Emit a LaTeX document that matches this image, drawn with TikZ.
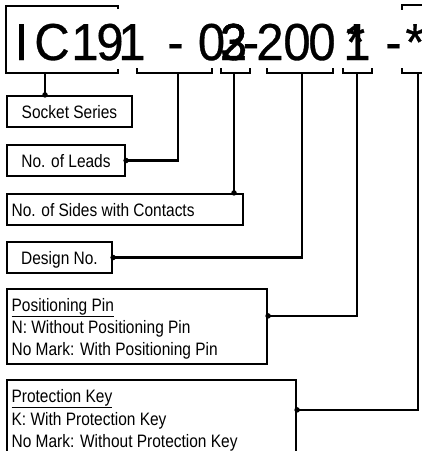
\documentclass[tikz,border=0pt]{standalone}
\usepackage{fontspec}
\setmainfont{Liberation Sans}
\newfontfamily\labfont[FakeStretch=0.86]{Liberation Sans}
\newfontfamily\titfont[FakeStretch=0.94,FakeBold=0.6]{Liberation Sans}
\usetikzlibrary{calc}
\begin{document}
\begin{tikzpicture}[x=1pt,y=-1pt,line width=2.2pt,
  box/.style={draw,rectangle,inner sep=0pt,line width=2.2pt},
  lab/.style={inner sep=0pt,font=\labfont\fontsize{18}{22}\selectfont},
  big/.style={inner sep=0pt,anchor=base,font=\titfont\fontsize{52}{60}\selectfont},
  jdot/.style={fill,circle,inner sep=0pt,minimum size=5.5pt}]
\useasboundingbox (0,0) rectangle (422,451);
\clip (0,0) rectangle (422,451);

% title glyphs
\node[big] (t1a) at (21.5,60) {I};
\node[big] (t1b) at (52,60) {C};
\node[big] (t1c) at (85,60) {1};
\node[big] (t1d) at (110,60) {9};
\node[big] (t1e) at (132,60) {1};
\node[big] (t2) at (175.5,60) {-};
\node[big] (t3) at (211.5,60) {0};
\node[big] (t4) at (233.5,60) {2};
\node[big] (t5) at (233.5,60) {3};
\node[big] (t6) at (251,60) {-};
\node[big] (t7) at (270,60) {2};
\node[big] (t8) at (297,60) {0};
\node[big] (t9) at (322,60) {0};
\node[big] (t10) at (357,60) {1};
\node[big] (t11) at (355.5,60) {*};
\node[big] (t12) at (393.5,60) {-};
\node[big] (t13) at (415,60) {*};

% brackets
\draw (118,9) -- (118,6) -- (6,6) -- (6,73) -- (118,73) -- (118,69);
\coordinate (b1) at (45,73);
\draw (137,68) -- (137,73) -- (212,73) -- (212,68);
\coordinate (b2) at (178,73);
\draw (221,68) -- (221,73) -- (250,73) -- (250,68);
\coordinate (b3) at (234,73);
\draw (267,68) -- (267,73) -- (333,73) -- (333,68);
\coordinate (b4) at (302,73);
\draw (343,68) -- (343,73) -- (372,73) -- (372,68);
\coordinate (b5) at (357,73);
\draw (430,5) -- (402,5) -- (402,10);
\draw (402,68) -- (402,73) -- (430,73);
\coordinate (b6) at (418,73);

% boxes
\node[box,minimum width=125pt,minimum height=31pt] (ss) at (69.5,111.5) {};
\node[box,minimum width=118pt,minimum height=31pt] (nl) at (66,160.5) {};
\node[box,minimum width=236pt,minimum height=31pt] (ns) at (125,209.5) {};
\node[box,minimum width=105pt,minimum height=31pt] (dn) at (59.5,257.5) {};
\node[box,minimum width=260pt,minimum height=75pt] (pp) at (137,326.5) {};
\node[box,minimum width=289pt,minimum height=90pt] (pk) at (151.5,425) {};

% labels
\node[lab,anchor=base] (l1) at (69.5,118.3) {Socket Series};
\node[lab,anchor=base] (l2) at (66,167) {No. of Leads};
\node[lab,anchor=base west] (l3) at (10.5,216.5) {No. of Sides with Contacts};
\node[lab,anchor=base] (l4) at (59.5,264) {Design No.};
\node[lab,anchor=base west] (l5) at (10.5,311) {\underline{Positioning Pin}};
\node[lab,anchor=base west] (l6) at (10.5,333) {N: Without Positioning Pin};
\node[lab,anchor=base west] (l7) at (10.5,355) {No Mark: With Positioning Pin};
\node[lab,anchor=base west] (l8) at (10.5,402) {\underline{Protection Key}};
\node[lab,anchor=base west] (l9) at (10.5,425) {K: With Protection Key};
\node[lab,anchor=base west] (l10) at (10.5,447) {No Mark: Without Protection Key};

% connectors
\draw (b1) -- (b1 |- ss.north);
\node[jdot] (d1) at (b1 |- ss.north) {};
\draw (b2) |- (nl.east);
\node[jdot] (d2) at (nl.east) {};
\draw (b3) -- (b3 |- ns.north);
\node[jdot] (d3) at (b3 |- ns.north) {};
\draw (b4) |- (dn.east);
\node[jdot] (d4) at (dn.east) {};
\coordinate (pe) at ($(pp.north east)+(0,28)$);
\draw (b5) |- (pe);
\node[jdot] (d5) at (pe) {};
\coordinate (ke) at ($(pk.north east)+(0,31)$);
\draw (b6) |- (ke);
\node[jdot] (d6) at (ke) {};
\end{tikzpicture}
\end{document}
